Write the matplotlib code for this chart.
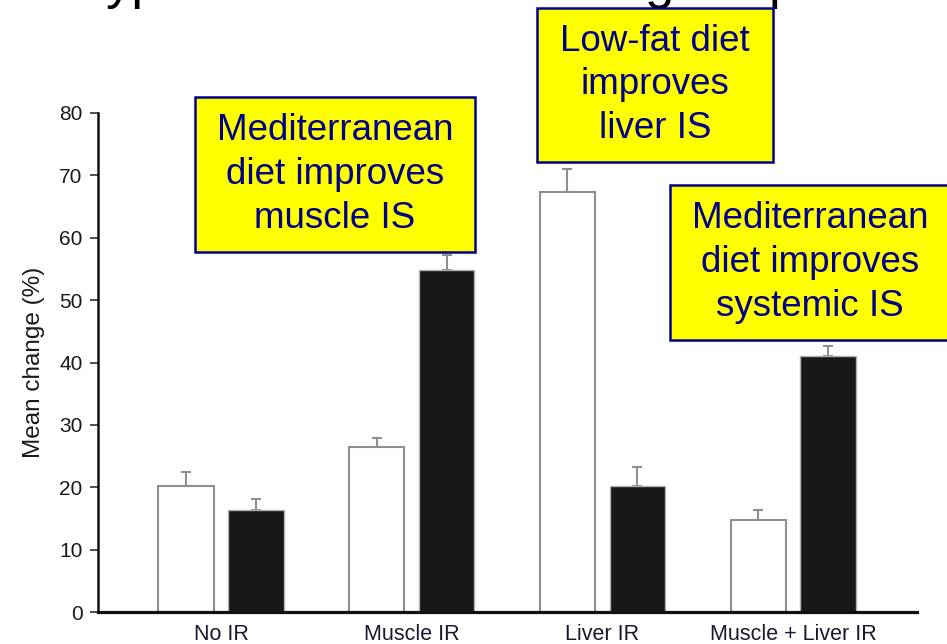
import numpy as np
import matplotlib.pyplot as plt
from matplotlib.patches import Rectangle

plt.rcParams["font.family"] = ["Liberation Sans", "DejaVu Sans"]

W, H = 947, 644

# Mean change (%) per insulin-resistance phenotype
groups = ["No IR", "Muscle IR", "Liver IR", "Muscle + Liver IR"]
low_fat = [20.2, 26.4, 67.3, 14.7]
low_fat_err = [2.2, 1.5, 3.7, 1.6]
mediterranean = [16.3, 54.8, 20.2, 41.0]
mediterranean_err = [1.8, 2.4, 3.0, 1.6]

y_ticks = [0, 10, 20, 30, 40, 50, 60, 70, 80]

# Callout boxes: (text, left, top, right, bottom) in pixels
callouts = [
    ("Mediterranean\ndiet improves\nmuscle IS", 195, 97, 475, 252),
    ("Low-fat diet\nimproves\nliver IS", 537, 8, 773, 162),
    ("Mediterranean\ndiet improves\nsystemic IS", 670, 185, 950, 340),
]


def fx(px):
    return px / W


def fy(py):
    return 1 - py / H


fig = plt.figure(figsize=(W / 100, H / 100), dpi=100)
ax = fig.add_axes([fx(98), fy(612), fx(917) - fx(98), fy(113) - fy(612)])

x = np.arange(len(groups))
off = 0.183
width = 0.29

ax.bar(x - off, low_fat, width, color="white", edgecolor="#8f8f8f",
       linewidth=1.5, zorder=2)
ax.bar(x + off, mediterranean, width, color="#181818", edgecolor="#b0b0b0",
       linewidth=1.0, zorder=2)
ax.errorbar(x - off, low_fat, yerr=[np.zeros(4), low_fat_err], fmt="none",
            ecolor="#8f8f8f", elinewidth=1.5, capsize=3.5, capthick=1.5, zorder=1)
ax.errorbar(x + off, mediterranean, yerr=[np.zeros(4), mediterranean_err],
            fmt="none", ecolor="#8f8f8f", elinewidth=1.5, capsize=3.5,
            capthick=1.5, zorder=1)

ax.set_xlim(-0.645, 3.65)
ax.set_ylim(0, 80)
ax.set_yticks(y_ticks)
ax.set_xticks(x)
ax.set_xticklabels(groups, fontsize=15.5, color="#1a1a2e")
ax.tick_params(axis="y", labelsize=15, length=6, width=1.2,
               colors="#333333", labelcolor="#1a1a1a", pad=5)
ax.tick_params(axis="x", length=0, pad=9)
ax.set_ylabel("Mean change (%)", fontsize=17.5, color="#1a1a1a", labelpad=10)

for side in ("top", "right"):
    ax.spines[side].set_visible(False)
ax.spines["left"].set_linewidth(1.8)
ax.spines["left"].set_color("#111111")
ax.spines["bottom"].set_linewidth(2.3)
ax.spines["bottom"].set_color("#111111")

for text, left, top, right, bottom in callouts:
    fig.patches.append(Rectangle((fx(left), fy(bottom)), fx(right) - fx(left),
                                 fy(top) - fy(bottom), transform=fig.transFigure,
                                 facecolor="#ffff00", edgecolor="#000090",
                                 linewidth=1.8, zorder=5))
    fig.text(fx((left + right) / 2), fy((top + bottom) / 2), text,
             ha="center", va="center", fontsize=26.5, color="#00008b",
             linespacing=1.32, zorder=6)

# Slide title running off the top edge
for frag, px in (("yp", 106), ("g", 645), ("p", 769)):
    fig.text(fx(px), fy(-2), frag, fontsize=38, color="black",
             ha="left", va="baseline")

fig.savefig("out.png", dpi=100)
